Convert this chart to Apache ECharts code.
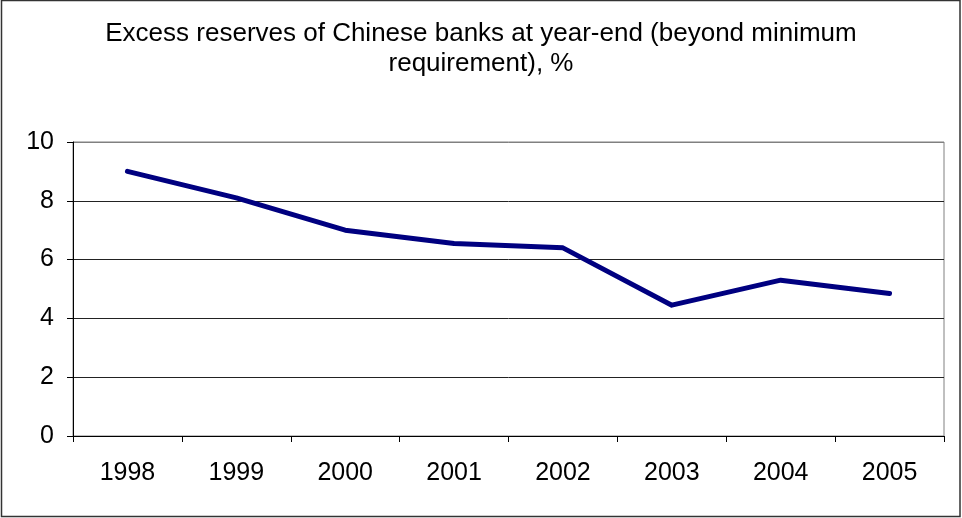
<!DOCTYPE html>
<html>
<head>
<meta charset="utf-8">
<script src="https://cdn.jsdelivr.net/npm/echarts@6/dist/echarts.min.js"></script>
<style>
html,body{margin:0;padding:0;background:#fff;}
#chart{width:962px;height:518px;}
</style>
</head>
<body>
<div id="chart"></div>
<script>
var titleText = 'Excess reserves of Chinese banks at year-end (beyond minimum\nrequirement), %';
var categories = ['1998','1999','2000','2001','2002','2003','2004','2005'];
var excessReserves = [9.0, 8.1, 7.0, 6.55, 6.4, 4.45, 5.3, 4.85];

var chart = echarts.init(document.getElementById('chart'));
chart.setOption({
  animation: false,
  backgroundColor: '#fff',
  title: {
    text: titleText,
    left: 'center',
    top: 14,
    textStyle: {
      fontFamily: 'Liberation Sans, Arial, sans-serif',
      fontSize: 26,
      fontWeight: 'normal',
      color: '#000',
      lineHeight: 30
    }
  },
  graphic: [{
    type: 'rect',
    shape: {x: 1.5, y: 0.5, width: 958.5, height: 516},
    style: {fill: 'none', stroke: '#333', lineWidth: 1.5},
    silent: true,
    z: 100
  }],
  grid: {
    left: 73, right: 18, top: 142, bottom: 82,
    show: true, borderColor: '#808080', borderWidth: 1
  },
  xAxis: {
    type: 'category',
    data: categories,
    boundaryGap: true,
    axisLine: {lineStyle: {color: '#000', width: 1}},
    axisTick: {show: true, length: 6, alignWithLabel: false, lineStyle: {color: '#000'}},
    axisLabel: {
      color: '#000', fontSize: 25, margin: 25,
      fontFamily: 'Liberation Sans, Arial, sans-serif'
    },
    splitLine: {show: false}
  },
  yAxis: {
    type: 'value',
    min: 0, max: 10, interval: 2,
    axisLine: {show: true, lineStyle: {color: '#000', width: 1}},
    axisTick: {show: true, length: 6, lineStyle: {color: '#000'}},
    axisLabel: {
      color: '#000', fontSize: 25, margin: 19,
      fontFamily: 'Liberation Sans, Arial, sans-serif'
    },
    splitLine: {show: true, lineStyle: {color: ['#000','#222','#222','#222','#222','#808080'], width: 1}}
  },
  series: [{
    type: 'line',
    data: excessReserves,
    symbol: 'none',
    lineStyle: {color: '#000080', width: 5, cap: 'round', join: 'round'},
    itemStyle: {color: '#000080'}
  }]
});
</script>
</body>
</html>
